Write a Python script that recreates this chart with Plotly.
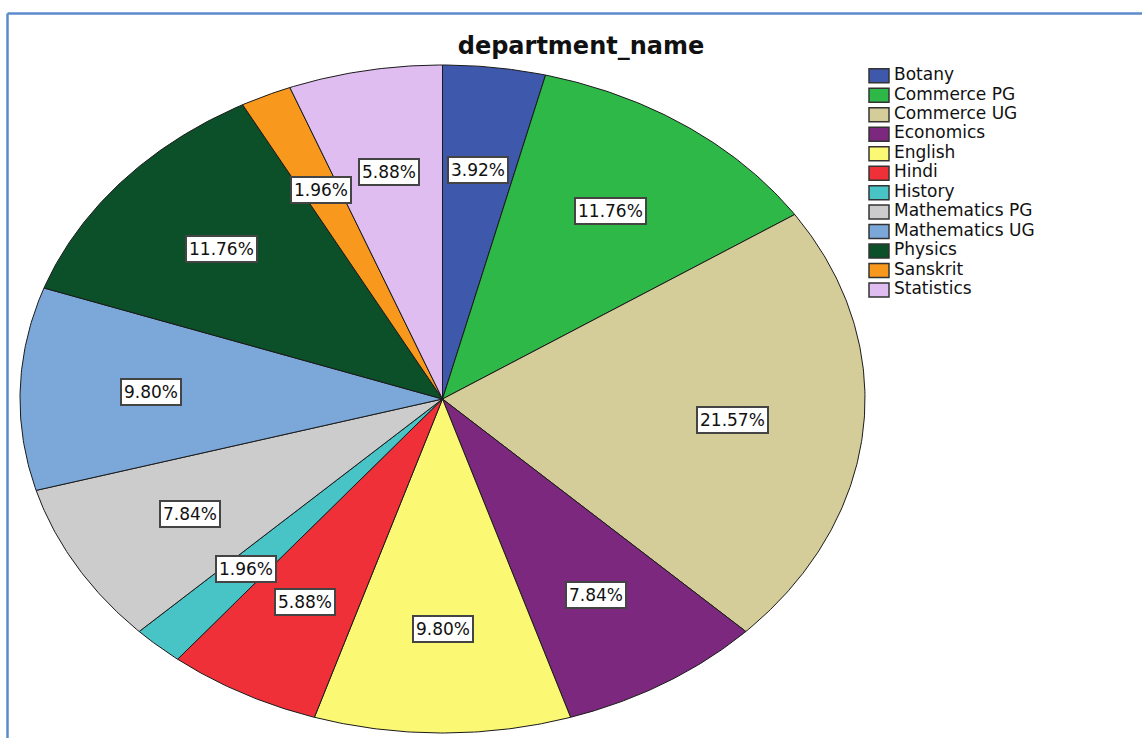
import numpy as np
import plotly.graph_objects as go

# ---- data ----
departments = ["Botany", "Commerce PG", "Commerce UG", "Economics", "English", "Hindi",
               "History", "Mathematics PG", "Mathematics UG", "Physics", "Sanskrit", "Statistics"]
counts = [2, 6, 11, 4, 5, 3, 1, 4, 5, 6, 1, 3]
colors = ["#3E58AC", "#2EB848", "#D4CD99", "#7B287E", "#FBF874", "#EF3039",
          "#48C3C6", "#CCCCCC", "#7BA8D8", "#0B5028", "#F8991D", "#DFBDF1"]
title_text = "department_name"

# ---- geometry (unit-circle pie in data space; axes stretch it to an ellipse) ----
W, H = 1142, 738
cx_px, cy_px, rx_px, ry_px = 442.5, 399.0, 422.5, 334.0
x_range = [-cx_px / rx_px, (W - cx_px) / rx_px]
y_range = [-(H - cy_px) / ry_px, cy_px / ry_px]
label_r = 0.69

total = sum(counts)
fracs = np.array(counts) / total
starts = np.concatenate([[0], np.cumsum(fracs)[:-1]])

fig = go.Figure()
for name, f, s, col in zip(departments, fracs, starts, colors):
    th = np.linspace(s, s + f, max(int(f * 720), 4)) * 2 * np.pi
    xs = np.concatenate([[0], np.sin(th), [0]])
    ys = np.concatenate([[0], np.cos(th), [0]])
    fig.add_trace(go.Scatter(x=xs, y=ys, mode="lines", fill="toself", fillcolor=col,
                             line=dict(color="#1a1a1a", width=1), showlegend=False,
                             hoverinfo="text", text=f"{name}: {f*100:.2f}%", name=name))

# ---- legend drawn on its own small axes (x2/y2, 1 unit = 1 px) ----
leg_top_px, leg_step_px = 75.8 - 0.5 * 19.47, 19.47
leg_bot_px = leg_top_px + len(departments) * leg_step_px
fig.add_trace(go.Bar(x=[20] * len(departments), base=[9] * len(departments), y=departments,
                     orientation="h", width=14 / leg_step_px,
                     marker=dict(color=colors, line=dict(color="#333333", width=1.5)),
                     xaxis="x2", yaxis="y2", showlegend=False, hoverinfo="skip"))
fig.add_trace(go.Scatter(x=[34] * len(departments), y=departments, mode="text",
                         text=departments, textposition="middle right",
                         textfont=dict(family="DejaVu Sans", size=17, color="#111111"),
                         xaxis="x2", yaxis="y2", showlegend=False, hoverinfo="skip",
                         cliponaxis=False))

# percentage labels
for f, s in zip(fracs, starts):
    a = (s + f / 2) * 2 * np.pi
    fig.add_annotation(x=label_r * np.sin(a), y=label_r * np.cos(a), xref="x", yref="y",
                       text=f"{f*100:.2f}%", showarrow=False,
                       font=dict(family="DejaVu Sans", size=17, color="#111111"),
                       bgcolor="white", bordercolor="#444444", borderwidth=2, borderpad=2)

# frame lines (top and left)
fx = 7.5 / W
fy = 1 - 13.5 / H
fig.add_shape(type="line", xref="paper", yref="paper", x0=fx, x1=1.01, y0=fy, y1=fy,
              line=dict(color="#5B8BCB", width=2.5))
fig.add_shape(type="line", xref="paper", yref="paper", x0=fx, x1=fx, y0=fy, y1=-0.01,
              line=dict(color="#5B8BCB", width=2.5))

fig.update_layout(
    width=W, height=H,
    margin=dict(l=0, r=0, t=0, b=0),
    paper_bgcolor="white", plot_bgcolor="rgba(0,0,0,0)",
    title=dict(text=f"<b>{title_text}</b>", x=581 / W, xanchor="center",
               y=1 - 46 / H, yanchor="middle", yref="container",
               font=dict(family="DejaVu Sans", size=24, color="#111111")),
    xaxis=dict(range=x_range, visible=False, fixedrange=True, domain=[0, 1]),
    yaxis=dict(range=y_range, visible=False, fixedrange=True, domain=[0, 1]),
    xaxis2=dict(domain=[860 / W, 1140 / W], range=[0, 280], visible=False,
                fixedrange=True, anchor="y2"),
    yaxis2=dict(domain=[1 - leg_bot_px / H, 1 - leg_top_px / H], type="category",
                categoryorder="array", categoryarray=departments,
                range=[len(departments) - 0.5, -0.5], visible=False,
                fixedrange=True, anchor="x2"),
    showlegend=False,
)

fig.write_html("out.html", config={"displayModeBar": False},
               post_script="document.body.style.margin='0';")
